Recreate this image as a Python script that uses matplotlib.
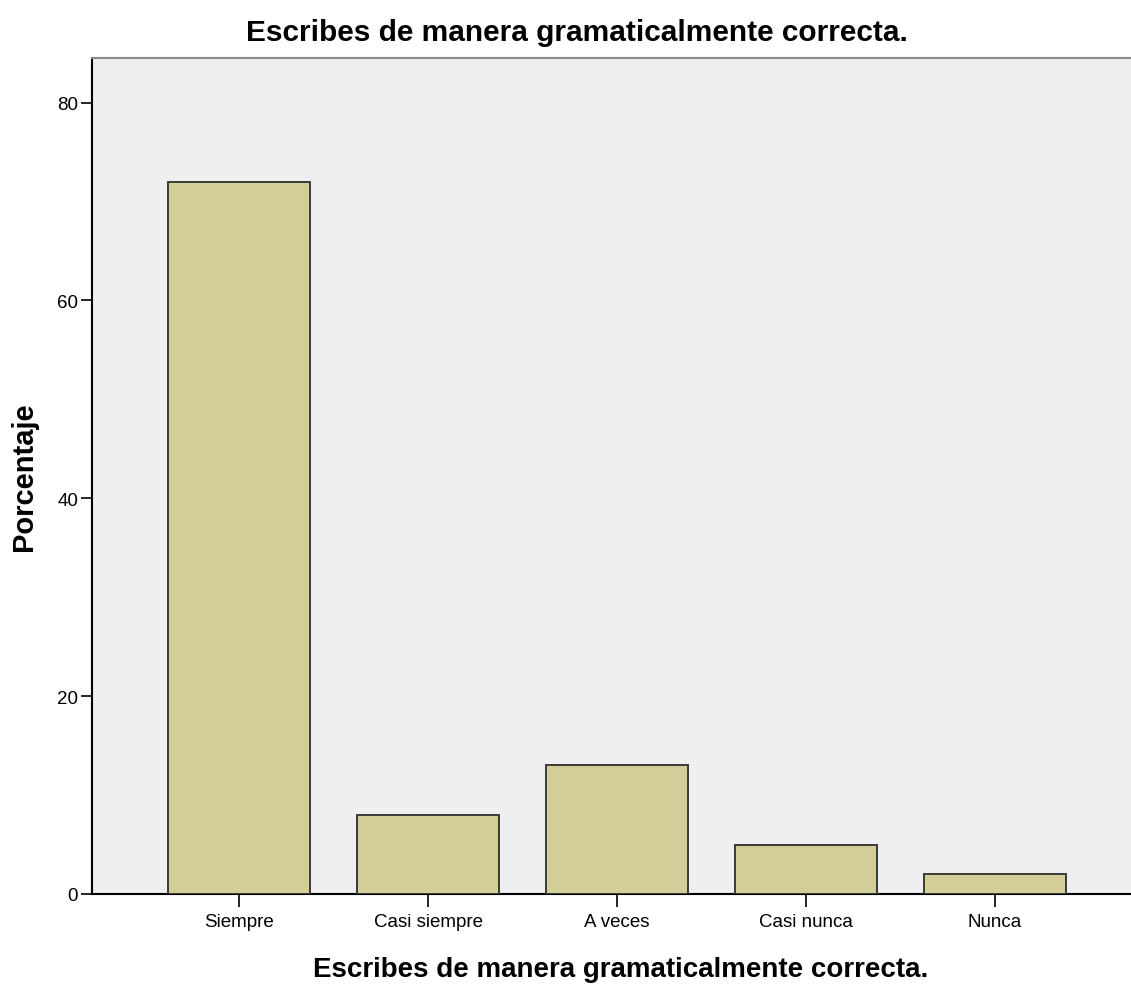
import matplotlib
matplotlib.use("Agg")
import matplotlib.pyplot as plt

# data
categories = ["Siempre", "Casi siempre", "A veces", "Casi nunca", "Nunca"]
percentages = [72, 8, 13, 5, 2]
yticks = [0, 20, 40, 60, 80]

title = "Escribes de manera gramaticalmente correcta."

plt.rcParams['font.family'] = ['Liberation Sans', 'DejaVu Sans']

fig = plt.figure(figsize=(11.31, 9.87), dpi=100)
ax = fig.add_axes([92 / 1131, 1 - 895 / 987, 1 - 92 / 1131, (895 - 59) / 987])
ax.set_facecolor("#efefef")

x = range(len(categories))
ax.bar(x, percentages, width=0.75, color="#d3ce97", edgecolor="#3a3a3a", linewidth=1.4, zorder=3)

ax.set_xlim(-0.778, 4.72)
ax.set_ylim(0, 84.5)
ax.set_yticks(yticks)
ax.set_xticks(list(x))
ax.set_xticklabels(categories, fontsize=13.5)
ax.tick_params(axis='y', labelsize=13.5, length=8, width=1.2, direction='out', pad=2)
ax.tick_params(axis='x', length=9, width=1.2, direction='out', pad=5)

for side in ['left', 'bottom']:
    ax.spines[side].set_color('black')
    ax.spines[side].set_linewidth(1.5)
ax.spines['top'].set_color('#8a8a8a')
ax.spines['top'].set_linewidth(1.5)
ax.spines['right'].set_visible(False)

fig.text(577 / 1131, 1 - 33 / 987, title, ha='center', va='center', fontsize=21.5, fontweight='bold')
fig.text(621 / 1131, 1 - 970 / 987, title, ha='center', va='center', fontsize=20, fontweight='bold')
fig.text(24 / 1131, 1 - 477 / 987, "Porcentaje", ha='center', va='center', rotation=90,
         fontsize=21, fontweight='bold')

fig.savefig("out.png", dpi=100)
